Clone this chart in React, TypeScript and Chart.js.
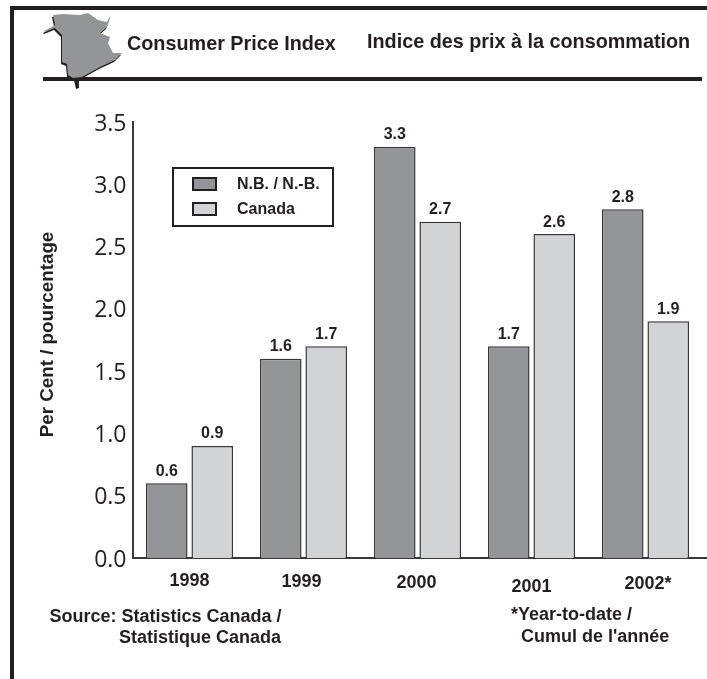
import React, { useEffect, useRef } from "react";
import { Chart, registerables } from "chart.js";

Chart.register(...registerables);

const categories = ["1998", "1999", "2000", "2001", "2002*"];
const nbValues = [0.6, 1.6, 3.3, 1.7, 2.8];
const canadaValues = [0.9, 1.7, 2.7, 2.6, 1.9];
const nbLabel = "N.B. / N.-B.";
const canadaLabel = "Canada";
const yTitle = "Per Cent / pourcentage";
const titleEn = "Consumer Price Index";
const titleFr = "Indice des prix à la consommation";
const sourceLines = ["Source: Statistics Canada /", "Statistique Canada"];
const noteLines = ["*Year-to-date /", "Cumul de l'année"];

const INK = "#231f20";
const LINE = "#3a3738";
const NB = "#939598";
const CA = "#d1d3d4";
const SANS = '"Liberation Sans", Arial, sans-serif';

// Hand-placed offsets of the category labels in the original artwork.
const catNudgeX = [0, -2, -1, 0, 2.5];
const catY = [581, 582, 583, 587, 584];

const mapOutline: [number, number][] = [
  [44, 31], [55, 25], [53, 15], [63, 14], [80, 15], [88, 13], [98, 20], [107, 22],
  [111, 15], [107, 27], [100, 33], [110, 37], [108, 43], [113, 53], [122, 53],
  [115, 60], [100, 67], [82, 77], [73, 78], [68, 75], [67, 64], [62, 62], [62, 35],
  [55, 28], [45, 32],
];

function tracePoly(ctx: CanvasRenderingContext2D, pts: [number, number][], dx = 0, dy = 0) {
  ctx.beginPath();
  pts.forEach(([x, y], i) => (i ? ctx.lineTo(x + dx, y + dy) : ctx.moveTo(x + dx, y + dy)));
  ctx.closePath();
}

function text(ctx: CanvasRenderingContext2D, s: string, x: number, y: number, size: number, align: CanvasTextAlign = "left") {
  ctx.font = `bold ${size}px ${SANS}`;
  ctx.fillStyle = INK;
  ctx.textAlign = align;
  ctx.textBaseline = "middle";
  ctx.fillText(s, x, y);
}

const artwork = {
  id: "artwork",
  afterDraw(chart: any) {
    const { ctx } = chart;
    const xs = chart.scales.x;
    const area = chart.chartArea;
    ctx.save();

    // page frame and header rule
    ctx.fillStyle = INK;
    ctx.fillRect(10, 6, 697, 4);
    ctx.fillRect(10, 6, 4, 673);
    ctx.fillRect(43, 77, 659, 4);

    // provincial map
    ctx.fillStyle = INK;
    tracePoly(ctx, mapOutline, -1, 2);
    ctx.fill();
    ctx.beginPath();
    ctx.moveTo(73, 76);
    ctx.lineTo(79, 77);
    ctx.lineTo(79, 88);
    ctx.lineTo(76, 89);
    ctx.closePath();
    ctx.fill();
    ctx.fillStyle = NB;
    tracePoly(ctx, mapOutline);
    ctx.fill();

    text(ctx, titleEn, 127, 45, 19.8);
    text(ctx, titleFr, 367, 43, 19.8);

    // baseline runs slightly past the last category
    ctx.fillStyle = LINE;
    ctx.fillRect(area.right, area.bottom - 1, 707 - area.right, 2);

    // y axis title
    ctx.save();
    ctx.translate(53, 334.5);
    ctx.rotate(-Math.PI / 2);
    ctx.font = `bold 18.8px ${SANS}`;
    ctx.fillStyle = INK;
    ctx.textAlign = "center";
    ctx.textBaseline = "alphabetic";
    ctx.fillText(yTitle, 0, 0);
    ctx.restore();

    // value labels
    chart.data.datasets.forEach((ds: any, i: number) => {
      chart.getDatasetMeta(i).data.forEach((bar: any, j: number) => {
        text(ctx, ds.data[j].toFixed(1), bar.x, bar.y - 12, 16, "center");
      });
    });

    // category labels
    categories.forEach((c, i) => {
      text(ctx, c, xs.getPixelForValue(i) + catNudgeX[i], catY[i], 18, "center");
    });

    // legend
    ctx.fillStyle = "#fff";
    ctx.fillRect(173, 168, 160, 58);
    ctx.strokeStyle = INK;
    ctx.lineWidth = 2;
    ctx.strokeRect(173, 168, 160, 58);
    chart.data.datasets.forEach((ds: any, i: number) => {
      const y = i === 0 ? 178 : 203;
      ctx.fillStyle = ds.backgroundColor;
      ctx.fillRect(193, y, 23, 12);
      ctx.strokeRect(193, y, 23, 12);
      text(ctx, ds.label, 237, y + 6.5, 16);
    });

    // notes
    text(ctx, sourceLines[0], 49.5, 617, 18);
    text(ctx, sourceLines[1], 119, 638, 18);
    text(ctx, noteLines[0], 511, 615, 18);
    text(ctx, noteLines[1], 521, 637, 18);
    ctx.restore();
  },
};

export default function App() {
  const ref = useRef<HTMLCanvasElement>(null);
  useEffect(() => {
    const chart = new Chart(ref.current!, {
      type: "bar",
      data: {
        labels: categories,
        datasets: [
          { label: nbLabel, data: nbValues, backgroundColor: NB, borderColor: LINE, borderWidth: 1.5 },
          { label: canadaLabel, data: canadaValues, backgroundColor: CA, borderColor: LINE, borderWidth: 1.5 },
        ],
      },
      options: {
        animation: false,
        responsive: false,
        devicePixelRatio: 1,
        layout: { padding: { top: 122, bottom: 113, left: 0, right: 4.5 } },
        plugins: { legend: { display: false }, tooltip: { enabled: false }, title: { display: false } },
        datasets: { bar: { categoryPercentage: 0.798, barPercentage: 0.915 } },
        scales: {
          x: {
            grid: { display: false },
            border: { color: LINE, width: 2 },
            ticks: { display: false },
          },
          y: {
            min: 0,
            max: 3.5,
            afterFit: (s: any) => { s.width = 132.5; },
            grid: { display: false, drawTicks: false },
            border: { color: LINE, width: 2 },
            ticks: {
              stepSize: 0.5,
              padding: 6,
              labelOffset: 2,
              color: INK,
              font: { family: '"Open Sans", sans-serif', size: 23 },
              callback: (v: any) => Number(v).toFixed(1),
            },
          },
        },
      },
      plugins: [artwork],
    } as any);
    return () => chart.destroy();
  }, []);
  return (
    <div style={{ position: "absolute", left: 0, top: 0, width: 707, height: 679, background: "#fff" }}>
      <canvas ref={ref} width={707} height={679} style={{ display: "block" }} />
    </div>
  );
}
